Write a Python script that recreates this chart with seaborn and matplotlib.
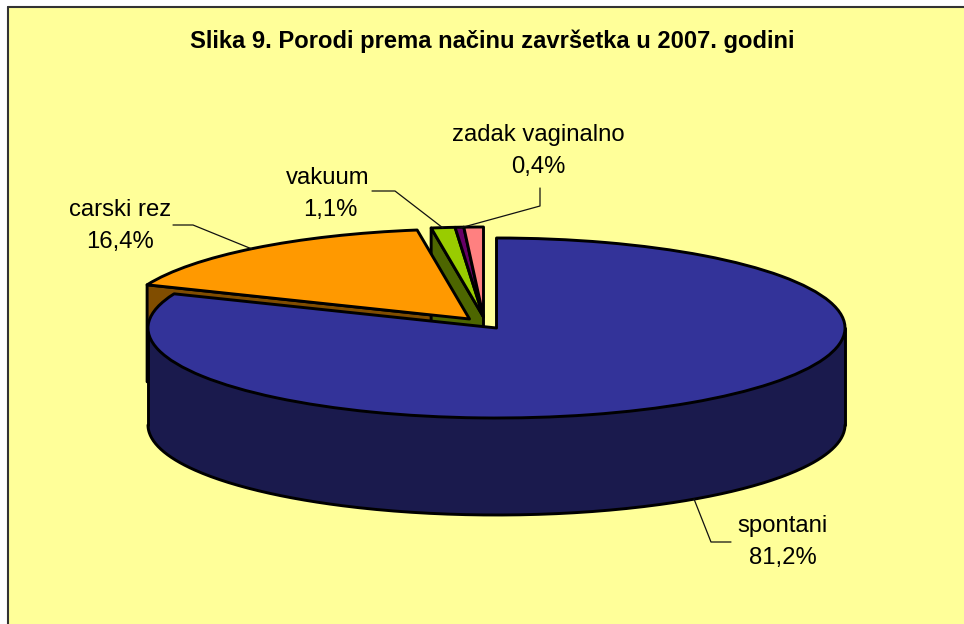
import numpy as np
import matplotlib
matplotlib.use("Agg")
import matplotlib.pyplot as plt
from matplotlib.patches import Polygon, Rectangle
import seaborn as sns

# --- data -------------------------------------------------------------
title = "Slika 9. Porodi prema načinu završetka u 2007. godini"
categories = ["spontani", "carski rez", "vakuum", "zadak vaginalno", "ostalo"]
values = [81.2, 16.4, 1.1, 0.4, 0.9]
value_labels = ["81,2%", "16,4%", "1,1%", "0,4%", ""]
top_colors = ["#333399", "#FF9900", "#99CC00", "#660066", "#FF8080"]
side_colors = ["#1A1A4D", "#804D00", "#4D6600", "#330033", "#804040"]
background = "#FFFF99"

# --- layout (pixels of the 964x624 picture) ----------------------------
W, H = 964, 624
CX, CY, RX, RY = 496.5, 328.0, 348.5, 90.0
DEPTH = 97.0
LW = 2.1
# slice offset from the pie centre, in pixels (right, up)
offsets_px = [(0, 0), (-27, 9), (-13, 11), (-13, 11), (-13, 11)]

sns.set_theme(style="white", rc={"axes.grid": False})
plt.rcParams["font.family"] = ["Liberation Sans", "DejaVu Sans"]
palette = sns.color_palette(top_colors)

fig = plt.figure(figsize=(W / 100, H / 100), dpi=100, facecolor="white")
ax = fig.add_axes([0, 0, 1, 1])

wedges, _ = ax.pie(
    values, colors=palette, startangle=90, counterclock=False, radius=1.0,
    wedgeprops=dict(edgecolor="black", linewidth=LW, joinstyle="round"),
)
ax.set_aspect("auto")
ax.set_xlim((0 - CX) / RX, (W - CX) / RX)
ax.set_ylim((CY - H) / RY, CY / RY)
ax.set_frame_on(False)

d = DEPTH / RY
LINE = dict(edgecolor="black", linewidth=LW, joinstyle="round")

# background panel with its top and left edges
fig.add_artist(Rectangle((8 / W, 0), 1, 1 - 7 / H, transform=fig.transFigure,
                         facecolor=background, edgecolor="none", zorder=-5))
ax.patch.set_visible(False)
for xs, ys in (([8, 8], [H, 7]), ([8, W], [7, 7])):
    fig.add_artist(plt.Line2D([x / W for x in xs], [1 - y / H for y in ys],
                              color="#333333", linewidth=1.5, zorder=-4))

# move the exploded slices
angles = np.cumsum([0] + values) / sum(values) * 360.0
apex = []
for w, (ox, oy) in zip(wedges, offsets_px):
    c = (ox / RX, oy / RY)
    w.set_center(c)
    apex.append(c)


def rim(c, clock_deg):
    """Rim point of a slice at an angle measured clockwise from 12 o'clock."""
    t = np.deg2rad(clock_deg)
    return (c[0] + np.sin(t), c[1] + np.cos(t))


def cut_face(i, clock_deg, z):
    """Side face along a radial cut of slice i."""
    a = apex[i]
    r = rim(a, clock_deg)
    ax.add_patch(Polygon([a, r, (r[0], r[1] - d), (a[0], a[1] - d)],
                         closed=True, facecolor=side_colors[i], zorder=z, **LINE))


# side faces
cut_face(1, angles[1], 1.0)     # carski rez, cut toward the viewer
cut_face(2, angles[2], 1.2)     # vakuum, left cut

# front wall of the main slice
t = np.linspace(np.pi, 2 * np.pi, 300)
xw, yw = np.cos(t), np.sin(t)
ax.fill_between(xw, yw, yw - d, facecolor=side_colors[0], edgecolor="none", zorder=2)
ax.plot(xw, yw - d, color="black", linewidth=LW, zorder=2.1)
ax.plot([1, 1], [0, -d], color="black", linewidth=LW, zorder=2.1)
ax.plot([-1, -1], [0, -d], color="black", linewidth=LW, zorder=2.1)

# top faces
for i, w in enumerate(wedges):
    w.set_zorder(4 if i == 0 else 3)


# --- labels -----------------------------------------------------------
def px_text(x, y, s, **kw):
    fig.text(x / W, 1 - y / H, s, ha="center", va="baseline", color="black", **kw)


def leader(*pts):
    fig.add_artist(plt.Line2D([p[0] / W for p in pts], [1 - p[1] / H for p in pts],
                              color="#111111", linewidth=0.9, zorder=6))


px_text(492, 48, title, fontsize=17.1, fontweight="bold")

label_pos = {0: (783, 532), 1: (120, 216), 2: (328, 184), 3: (538, 141)}
for i, (x, y) in label_pos.items():
    px_text(x, y, categories[i], fontsize=17.2)
    px_text(x + (2 if i == 2 else 0), y + 32, value_labels[i], fontsize=17.2)

leader((694, 499), (711, 542), (731, 542))
leader((173, 225), (193, 225), (252, 249))
leader((372, 191), (395, 191), (443, 228))
leader((540, 188), (540, 206), (460, 228))

fig.savefig("out.png", dpi=100, facecolor="white")
